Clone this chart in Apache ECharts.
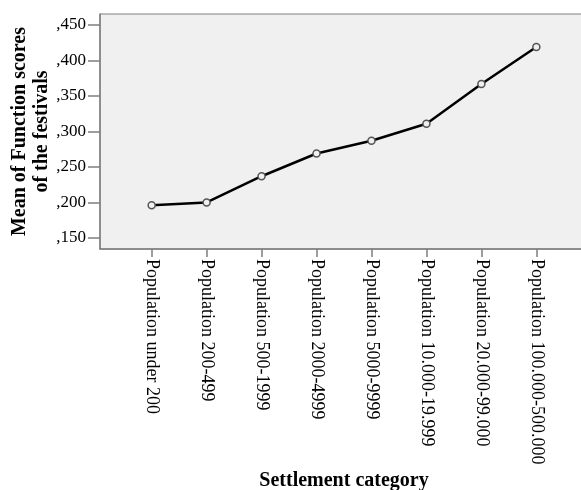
<!DOCTYPE html>
<html>
<head>
<meta charset="utf-8">
<script src="https://cdn.jsdelivr.net/npm/echarts@6/dist/echarts.min.js"></script>
<style>html,body{margin:0;padding:0;background:#fff;}#c{width:581px;height:490px;}</style>
</head>
<body>
<div id="c"></div>
<script>
const categories = ["Population under 200","Population 200-499","Population 500-1999","Population 2000-4999","Population 5000-9999","Population 10.000-19.999","Population 20.000-99.000","Population 100.000-500.000"];
const meanScores = [0.196, 0.200, 0.237, 0.269, 0.287, 0.311, 0.367, 0.419];
const yTicks = [0.15, 0.20, 0.25, 0.30, 0.35, 0.40, 0.45];
const xTickIdx = categories.map((c, i) => i);

const FONT = 'Liberation Serif';
const chart = echarts.init(document.getElementById('c'), null, {renderer: 'canvas'});
chart.setOption({
  animation: false,
  grid: {
    left: 100, right: -7, top: 14, bottom: 241,
    show: true, backgroundColor: '#f0f0f0', borderColor: '#7f7f7f', borderWidth: 1,
    outerBoundsMode: 'none', containLabel: false
  },
  xAxis: {
    type: 'value', min: -0.94, max: 7.94,
    name: 'Settlement category', nameLocation: 'middle', nameGap: 222, nameMoveOverlap: false,
    nameTextStyle: {fontFamily: FONT, fontSize: 20, fontWeight: 'bold', color: '#000'},
    axisLine: {show: true, onZero: false, lineStyle: {color: '#7f7f7f', width: 1.5}},
    axisTick: {show: true, length: 8, customValues: xTickIdx, lineStyle: {color: '#7f7f7f', width: 1.5}},
    splitLine: {show: false},
    axisLabel: {
      customValues: xTickIdx, rotate: -90, margin: 10,
      fontFamily: FONT, fontSize: 18, color: '#000',
      formatter: v => categories[Math.round(v)]
    }
  },
  yAxis: {
    type: 'value', min: 0.1345, max: 0.4655,
    name: 'Mean of Function scores\nof the festivals', nameLocation: 'middle', nameGap: 47, nameRotate: 90, nameMoveOverlap: false,
    nameTextStyle: {fontFamily: FONT, fontSize: 20, fontWeight: 'bold', color: '#000', lineHeight: 22, align: 'center'},
    axisLine: {show: true, onZero: false, lineStyle: {color: '#7f7f7f', width: 1.5}},
    axisTick: {show: true, length: 12, customValues: yTicks, lineStyle: {color: '#7f7f7f', width: 1.5}},
    splitLine: {show: false},
    axisLabel: {
      customValues: yTicks, margin: 14,
      fontFamily: FONT, fontSize: 17, color: '#000',
      formatter: v => ',' + String(Math.round(v * 1000)).padStart(3, '0')
    }
  },
  series: [{
    type: 'line',
    data: categories.map((c, i) => [i, meanScores[i]]),
    symbol: 'circle', symbolSize: 7,
    lineStyle: {color: '#000', width: 2.5},
    itemStyle: {color: '#f0f0f0', borderColor: '#555', borderWidth: 1.5},
    z: 3
  }]
});
</script>
</body>
</html>
